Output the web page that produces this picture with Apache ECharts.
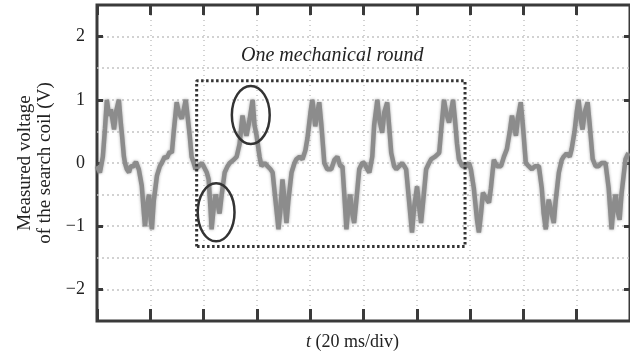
<!DOCTYPE html>
<html>
<head>
<meta charset="utf-8">
<script src="https://cdn.jsdelivr.net/npm/echarts@6/dist/echarts.min.js"></script>
<style>
  html, body { margin: 0; padding: 0; background: #fff; }
  #chart { width: 630px; height: 358px; }
</style>
</head>
<body>
<div id="chart"></div>
<script>
// time axis: 10 div x 20 ms
const timeMs = [
  0, 1.1, 2.2, 3.0, 3.7, 4.5, 5.2, 6.4, 7.1, 8.2, 9.0, 9.4, 10.1, 10.5, 11.2, 12.0, 12.7, 13.8, 14.6, 15.7,
  16.8, 17.6, 18.0, 18.7, 19.5, 20.2, 20.6, 21.3, 22.5, 23.6, 24.3, 25.4, 26.2, 27.3, 28.1, 28.8, 29.9, 30.7, 31.8, 32.6,
  33.3, 34.1, 34.8, 35.5, 36.3, 37.0, 38.2, 39.3, 40.0, 41.2, 41.9, 42.7, 43.0, 43.8, 44.5, 45.3, 46.0, 46.8, 47.9, 49.0,
  49.8, 51.3, 52.4, 53.5, 54.6, 55.4, 56.1, 57.3, 58.4, 59.1, 59.9, 61.0, 61.7, 62.9, 64.0, 65.1, 65.9, 67.0, 68.1, 68.9,
  69.6, 70.4, 71.1, 71.8, 73.0, 74.1, 74.8, 76.0, 77.1, 78.2, 79.0, 80.1, 80.8, 81.6, 81.9, 82.7, 83.4, 84.2, 85.3, 86.4,
  87.9, 89.1, 90.2, 91.3, 92.1, 92.8, 93.6, 94.3, 95.0, 95.8, 96.5, 97.3, 98.4, 99.5, 100.3, 101.4, 102.2, 103.3, 104.0, 105.2,
  105.9, 107.0, 107.8, 108.9, 109.6, 110.4, 111.5, 112.3, 113.4, 114.5, 115.3, 116.0, 117.1, 118.2, 119.0, 120.1, 120.9, 121.6, 122.4, 123.5,
  124.6, 125.4, 126.9, 128.4, 129.1, 130.2, 131.0, 132.1, 132.8, 133.6, 134.3, 135.1, 135.8, 137.0, 138.5, 139.6, 140.3, 141.4, 142.6, 143.3,
  144.1, 144.8, 145.9, 147.1, 147.8, 148.9, 150.1, 151.6, 152.7, 153.8, 154.9, 155.7, 156.4, 157.2, 157.9, 159.0, 159.8, 160.9, 162.0, 163.2,
  164.3, 165.8, 166.9, 167.6, 168.4, 169.1, 169.5, 170.6, 171.4, 172.1, 173.3, 174.4, 175.1, 176.2, 177.4, 178.1, 179.2, 180.0, 180.7, 181.5,
  182.2, 183.0, 184.1, 184.9, 186.0, 187.1, 188.2, 189.3, 190.8, 192.0, 193.1, 193.8, 194.6, 195.3, 196.1, 196.8, 198.3, 199.4
]
const voltage = [
  -0.05, -0.15, 0.1, 0.55, 1.0, 0.75, 0.85, 0.53, 0.8, 1.0, 0.6, 0.43, 0.1, 0.0, -0.1, -0.15, -0.05, -0.05, 0.02, -0.1,
  -0.36, -0.8, -1.0, -0.7, -0.5, -0.9, -1.05, -0.6, -0.2, -0.05, 0.0, 0.1, 0.08, 0.18, 0.16, 0.5, 0.96, 0.8, 0.7, 0.85,
  1.0, 0.7, 0.43, 0.1, 0.0, -0.1, -0.05, 0.0, -0.05, -0.15, -0.26, -0.8, -1.05, -0.7, -0.5, -0.65, -0.8, -0.5, -0.15, -0.05,
  0.0, 0.05, 0.1, 0.3, 0.75, 0.55, 0.43, 0.7, 1.0, 0.6, 0.43, 0.1, -0.05, 0.0, -0.05, -0.1, -0.15, -0.6, -1.05, -0.7,
  -0.26, -0.6, -0.95, -0.6, -0.15, 0.0, 0.06, 0.1, 0.06, 0.2, 0.4, 0.8, 1.0, 0.7, 0.58, 0.8, 0.96, 0.6, 0.0, -0.1,
  -0.1, 0.05, 0.1, -0.05, -0.05, -0.5, -1.05, -0.7, -0.5, -0.8, -0.95, -0.6, -0.1, 0.0, 0.0, -0.1, -0.15, 0.1, 0.6, 1.0,
  0.7, 0.48, 0.8, 0.96, 0.6, 0.16, -0.05, -0.1, -0.05, 0.0, -0.05, -0.1, -0.6, -1.1, -0.7, -0.37, -0.7, -0.95, -0.6, -0.1,
  0.0, 0.06, 0.1, 0.16, 0.5, 1.0, 0.8, 0.64, 0.8, 1.0, 0.7, 0.3, 0.06, -0.05, -0.05, 0.0, -0.1, -0.4, -0.9, -1.1,
  -0.8, -0.47, -0.55, -0.63, -0.4, 0.05, -0.05, -0.05, 0.1, 0.22, 0.5, 0.75, 0.6, 0.43, 0.7, 0.96, 0.6, 0.0, -0.05, -0.1,
  -0.05, -0.05, -0.4, -0.8, -1.05, -0.7, -0.58, -0.8, -0.95, -0.6, -0.15, 0.05, 0.1, 0.15, 0.1, 0.22, 0.5, 0.8, 1.0, 0.7,
  0.53, 0.8, 0.96, 0.6, 0.06, -0.05, -0.05, 0.0, 0.0, -0.4, -1.05, -0.7, -0.5, -0.75, -0.9, -0.5, 0.06, 0.16
]

const yTickValues = [-2, -1, 0, 1, 2]

// "one mechanical round" box (ms, V)
const roundStart = 37.4
const roundEnd = 138.1
const roundTop = 1.3
const roundBottom = -1.32

// circled spots: centre time, centre voltage, half width (ms), half height (V)
const circleT = [57.7, 44.7]
const circleV = [0.76, -0.78]
const circleHalfT = [7.1, 6.9]
const circleHalfV = [0.46, 0.46]

const serif = 'Liberation Serif'
const frameColor = '#3a3a3a'
const gridDots = '#c4c4c4'

const chart = echarts.init(document.getElementById('chart'))

chart.setOption({
  animation: false,
  grid: { left: 97, top: 5, right: -3, bottom: 37, show: true, borderColor: frameColor, borderWidth: 3 },
  graphic: [{
    type: 'text',
    left: 241,
    top: 46,
    style: { text: 'One mechanical round', font: 'italic 20px "Liberation Serif"', fill: '#222' }
  }],
  xAxis: [{
    type: 'value', min: 0, max: 200, interval: 20, position: 'bottom',
    axisLine: { show: false, onZero: false },
    axisTick: { inside: true, length: 12, lineStyle: { color: frameColor, width: 3 } },
    axisLabel: { show: false },
    splitLine: { show: true, showMinLine: false, showMaxLine: false, lineStyle: { color: gridDots, type: [1, 4], width: 1.5 } },
    name: '{i|t} (20 ms/div)',
    nameLocation: 'middle',
    nameGap: 12,
    nameTextStyle: {
      fontFamily: serif, fontSize: 18, color: '#222', verticalAlign: 'top', padding: [0, 22, 0, 0],
      rich: { i: { fontFamily: serif, fontSize: 18, fontStyle: 'italic', color: '#222' } }
    }
  }, {
    type: 'value', min: 0, max: 200, interval: 20, position: 'top',
    axisLine: { show: false, onZero: false },
    axisTick: { inside: true, length: 10, lineStyle: { color: frameColor, width: 3 } },
    axisLabel: { show: false },
    splitLine: { show: false }
  }],
  yAxis: [{
    type: 'value', min: -2.5, max: 2.5, position: 'left',
    axisLine: { show: false, onZero: false },
    axisTick: { inside: true, length: 6, customValues: yTickValues, lineStyle: { color: frameColor, width: 3 } },
    axisLabel: {
      customValues: yTickValues, margin: 12, fontFamily: serif, fontSize: 18, color: '#222',
      formatter: v => v < 0 ? '\u2212' + Math.abs(v) : String(v)
    },
    splitLine: { show: false },
    name: 'Measured voltage\nof the search coil (V)',
    nameLocation: 'middle',
    nameRotate: 90,
    nameGap: 42,
    nameTextStyle: { fontFamily: serif, fontSize: 19, lineHeight: 20, color: '#222' }
  }, {
    type: 'value', min: -2.5, max: 2.5, position: 'right',
    axisLine: { show: false, onZero: false },
    axisTick: { inside: true, length: 6, customValues: yTickValues, lineStyle: { color: frameColor, width: 3 } },
    axisLabel: { show: false },
    splitLine: { show: false }
  }, {
    type: 'value', min: -2.5, max: 2.5, interval: 0.5, position: 'left',
    axisLine: { show: false, onZero: false },
    axisTick: { show: false },
    axisLabel: { show: false },
    splitLine: { show: true, showMinLine: false, showMaxLine: false, lineStyle: { color: gridDots, type: [2, 3], width: 1.5 } }
  }],
  series: [{
    type: 'line',
    xAxisIndex: 0,
    yAxisIndex: 0,
    data: timeMs.map((t, i) => [t, voltage[i]]),
    showSymbol: false,
    lineStyle: { color: '#8c8c8c', width: 4.5, shadowBlur: 3, shadowColor: 'rgba(130,130,130,0.7)' },
    z: 3
  }, {
    type: 'line',
    xAxisIndex: 0,
    yAxisIndex: 0,
    data: [
      [roundStart, roundBottom], [roundStart, roundTop], [roundEnd, roundTop],
      [roundEnd, roundBottom], [roundStart, roundBottom]
    ],
    showSymbol: false,
    lineStyle: { color: '#333', width: 3, type: [2.5, 2.5] },
    z: 4
  }, {
    type: 'custom',
    xAxisIndex: 0,
    yAxisIndex: 0,
    data: circleT.map((t, i) => [t, circleV[i], circleHalfT[i], circleHalfV[i]]),
    renderItem: (params, api) => {
      const c = api.coord([api.value(0), api.value(1)])
      const s = api.size([api.value(2), api.value(3)])
      return {
        type: 'ellipse',
        shape: { cx: c[0], cy: c[1], rx: s[0], ry: s[1] },
        style: { fill: 'none', stroke: '#333', lineWidth: 2.5 }
      }
    },
    z: 5
  }]
})
</script>
</body>
</html>
